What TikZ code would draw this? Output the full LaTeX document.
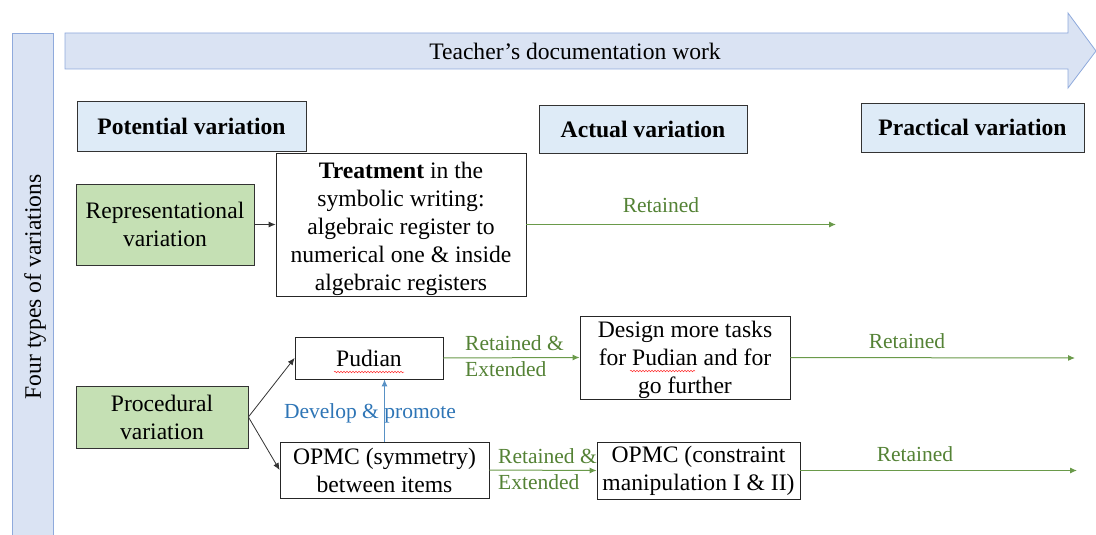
\documentclass[tikz,border=0pt]{standalone}
\usepackage{fontspec}
\setmainfont{Liberation Serif}
\usetikzlibrary{arrows.meta,decorations.pathmorphing}
\definecolor{barfill}{HTML}{DAE3F3}
\definecolor{barline}{HTML}{8FAADC}
\definecolor{headfill}{HTML}{DEEBF7}
\definecolor{greenfill}{HTML}{C5E0B4}
\definecolor{greentext}{HTML}{548235}
\definecolor{greenline}{HTML}{6A9A4A}
\definecolor{bluetext}{HTML}{2E75B6}
\tikzset{
  txt/.style={font=\fontsize{23.6}{28}\selectfont, align=center, inner sep=0pt},
  headbox/.style={draw=black!80, fill=headfill, line width=0.8pt, txt, font=\fontsize{23.6}{28}\selectfont\bfseries},
  greenbox/.style={draw=black!80, fill=greenfill, line width=0.8pt, txt},
  whitebox/.style={draw=black!85, fill=white, line width=0.8pt, txt},
  blackarr/.style={draw=black!80, line width=0.8pt, -{Latex[length=7pt,width=6pt]}},
  greenarr/.style={draw=greenline, line width=1pt, -{Latex[length=7pt,width=6pt]}},
  bluearr/.style={draw=bluetext!80, line width=1pt, -{Latex[length=7pt,width=6pt]}},
  glabel/.style={text=greentext, font=\fontsize{21.5}{26}\selectfont, inner sep=0pt},
}
\begin{document}
\begin{tikzpicture}[x=1pt,y=-1pt]
\useasboundingbox (0,0) rectangle (1096,535);
% big arrow
\draw[draw=barline, fill=barfill, line width=0.8pt]
  (65,33) -- (1068,33) -- (1068,13) -- (1096,51) -- (1068,88) -- (1068,69) -- (65,69) -- cycle;
\node[txt] (docwork) at (575,51) {Teacher’s documentation work};
% left bar
\draw[draw=barline, fill=barfill, line width=0.8pt] (12,545) -- (12,33) -- (53,33) -- (53,545);
\node[txt, rotate=90] (four) at (35,287) {Four types of variations};
% header boxes
\node[headbox, minimum width=229pt, minimum height=50pt] (pot) at (191.5,126) {Potential variation};
\node[headbox, minimum width=208pt, minimum height=48pt] (act) at (643,129) {Actual variation};
\node[headbox, minimum width=223pt, minimum height=49pt] (prac) at (972.5,127.5) {Practical variation};
% representational
\node[greenbox, minimum width=178pt, minimum height=81pt] (rep) at (165,224.5) {Representational\\variation};
\node[whitebox, minimum width=250pt, minimum height=143pt] (treat) at (401,224.5)
  {\rule{0pt}{25pt}\textbf{Treatment} in the\\symbolic writing:\\algebraic register to\\numerical one \& inside\\algebraic registers};
\draw[blackarr] (rep.east) -- (treat.west);
\coordinate (retend1) at (836,224.5);
\draw[greenarr] (treat.east) -- (retend1);
\node[glabel] (ret1) at (661,205) {Retained};
% procedural
\node[greenbox, minimum width=172pt, minimum height=62pt] (proc) at (162,417) {Procedural\\variation};
\node[whitebox, minimum width=148pt, minimum height=42pt] (pud) at (369,358) {Pudian};
\draw[red!80, line width=0.5pt, decorate, decoration={snake, amplitude=0.8pt, segment length=3pt}]
  (334,372) -- (404,372);
\node[whitebox, minimum width=209pt, minimum height=56pt] (opmcs) at (384.5,470)
  {OPMC (symmetry)\\between items};
\draw[blackarr] (proc.east) -- (pud.west);
\draw[blackarr] (proc.east) -- (opmcs.west);
\draw[bluearr] (opmcs.north) -- (opmcs.north |- pud.south);
\node[text=bluetext, font=\fontsize{21.5}{26}\selectfont, inner sep=0pt] (dev) at (370,413) {Develop \& promote};
% design
\node[whitebox, minimum width=210pt, minimum height=81pt] (design) at (685,357.5)
  {\rule{0pt}{22pt}Design more tasks\\for Pudian and for\\go further};
\draw[red!80, line width=0.5pt, decorate, decoration={snake, amplitude=0.8pt, segment length=3pt}]
  (630,371) -- (695,371);
\draw[greenarr] (pud.east) -- (design.west);
\node[glabel, anchor=west] (re1a) at (465,343) {Retained \&};
\node[glabel, anchor=west] (re1b) at (465,369) {Extended};
\coordinate (retend2) at (1075,358);
\draw[greenarr] (design.east) -- (retend2);
\node[glabel] (ret2) at (907,341) {Retained};
% opmc constraint
\node[whitebox, minimum width=203pt, minimum height=57pt] (opmcc) at (698.5,470.5)
  {OPMC (constraint\\manipulation I \& II)};
\draw[greenarr] (opmcs.east) -- (opmcc.west);
\node[glabel, anchor=west] (re2a) at (498,456) {Retained \&};
\node[glabel, anchor=west] (re2b) at (498,482) {Extended};
\coordinate (retend3) at (1077,470.5);
\draw[greenarr] (opmcc.east) -- (retend3);
\node[glabel] (ret3) at (915,454) {Retained};
\end{tikzpicture}
\end{document}
